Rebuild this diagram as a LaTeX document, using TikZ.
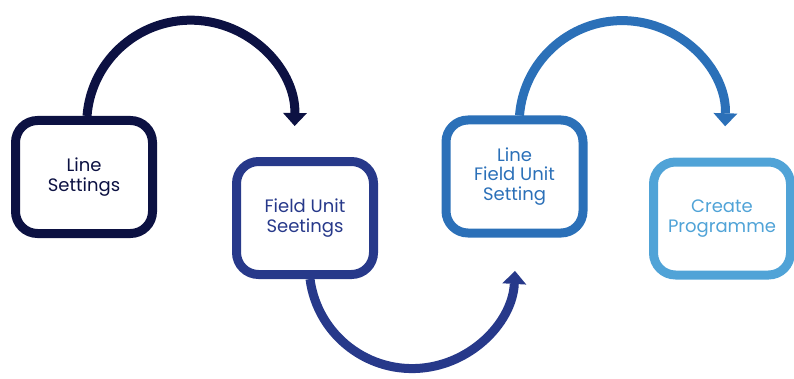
\documentclass[tikz,border=0pt]{standalone}
\usepackage{fontspec}
\setmainfont{Poppins}
\usetikzlibrary{arrows.meta}
\definecolor{inknavy}{HTML}{0C1142}
\definecolor{inkroyal}{HTML}{27398A}
\definecolor{inkblue}{HTML}{2B70B8}
\definecolor{inksky}{HTML}{50A3D7}
\tikzset{
  stepbox/.style={draw=#1, text=#1, line width=9pt, rounded corners=22pt,
    minimum width=137pt, minimum height=113pt, align=center,
    font=\fontsize{18}{19.5}\selectfont},
  hop/.style={draw=#1, line width=9pt,
    -{Triangle[width=24pt,length=13pt,line width=0pt]}},
}
\begin{document}
\begin{tikzpicture}[x=1pt,y=1pt]
  \useasboundingbox (0,0) rectangle (794,378);
  % the four steps
  \node[stepbox=inknavy] (line) at (84,201) {Line\\Settings};
  \node[stepbox=inkroyal] (field) at (305,160) {Field Unit\\Seetings};
  \node[stepbox=inkblue] (linefield) at (514.5,201.5) {Line\\Field Unit\\Setting};
  \node[stepbox=inksky] (create) at (722,159.5) {Create\\Programme};
  % hops between them
  \draw[hop=inknavy] ([xshift=3pt]line.north) arc[start angle=175.5, end angle=-1, radius=104];
  \draw[hop=inkroyal] ([xshift=5pt]field.south) arc[start angle=187.5, end angle=357, radius=103];
  \draw[hop=inkblue] ([xshift=5pt]linefield.north) arc[start angle=175.5, end angle=-1.5, radius=103];
\end{tikzpicture}
\end{document}
